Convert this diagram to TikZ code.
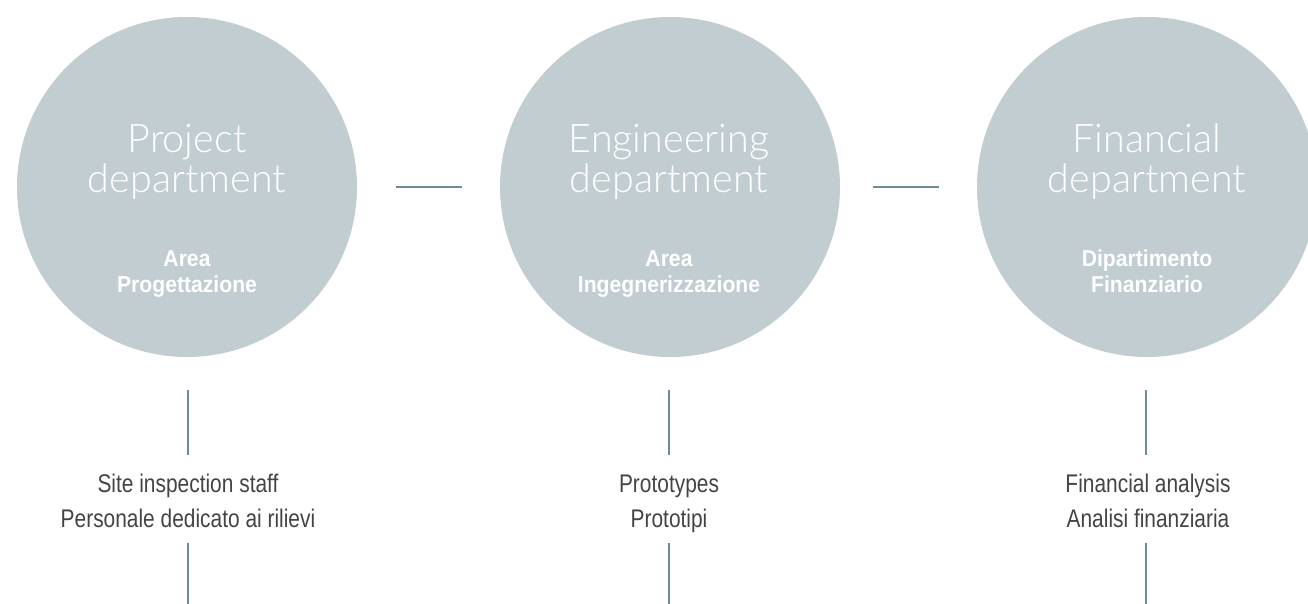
\documentclass[tikz,border=0pt]{standalone}
\usepackage{fontspec}
\setmainfont{Liberation Sans}
\newfontfamily\titlefont{Lato}[UprightFont={* Light}]
\newfontfamily\subfont{Liberation Sans}[FakeStretch=0.92]
\newfontfamily\condfont{Liberation Sans}[FakeStretch=0.82]
\definecolor{circfill}{HTML}{C2CDD1}
\definecolor{linecol}{HTML}{6E8B96}
\definecolor{txtdark}{HTML}{444444}
\tikzset{
  dept/.style={circle, fill=circfill, minimum size=340pt, inner sep=0pt},
  titleline/.style={anchor=base, inner sep=0pt, text=white, font=\titlefont\fontsize{39.5}{40}\selectfont},
  subline/.style={anchor=base, inner sep=0pt, text=white, font=\subfont\bfseries\fontsize{23}{26}\selectfont},
  itemline/.style={anchor=base, inner sep=0pt, text=txtdark, font=\condfont\fontsize{25.5}{34}\selectfont},
  conn/.style={draw=linecol, line width=1.6pt}
}
\begin{document}
\begin{tikzpicture}[x=1pt, y=-1pt]
\path[use as bounding box] (0,0) rectangle (1308,603);
% circles
\node[dept] (p) at (187,187) {};
\node[dept] (e) at (670,187) {};
\node[dept] (f) at (1147,187) {};
% titles
\node[titleline] (pt1) at (187,152) {Project};
\node[titleline] (pt2) at (187,192) {department};
\node[subline] (ps1) at (187,266) {Area};
\node[subline] (ps2) at (187,292) {Progettazione};
\node[titleline] (et1) at (669,152) {Engineering};
\node[titleline] (et2) at (669,192) {department};
\node[subline] (es1) at (669,266) {Area};
\node[subline] (es2) at (669,292) {Ingegnerizzazione};
\node[titleline] (ft1) at (1147,152) {Financial};
\node[titleline] (ft2) at (1147,192) {department};
\node[subline] (fs1) at (1147,266) {Dipartimento};
\node[subline] (fs2) at (1147,292) {Finanziario};
% horizontal connectors
\draw[conn, shorten <=39pt, shorten >=38pt] (p.east) -- (e.west);
\draw[conn, shorten <=33pt, shorten >=38pt] (e.east) -- (f.west);
% items
\node[itemline] (pi1) at (188,492) {Site inspection staff};
\node[itemline] (pi2) at (188,527) {Personale dedicato ai rilievi};
\node[itemline] (ei1) at (669,492) {Prototypes};
\node[itemline] (ei2) at (669,527) {Prototipi};
\node[itemline] (fi1) at (1148,492) {Financial analysis};
\node[itemline] (fi2) at (1148,527) {Analisi finanziaria};
% vertical connector ends
\coordinate (pa) at (188,390); \coordinate (pb) at (188,455);
\coordinate (pc) at (188,543); \coordinate (pd) at (188,604);
\coordinate (ea) at (669,390); \coordinate (eb) at (669,455);
\coordinate (ec) at (669,543); \coordinate (ed) at (669,604);
\coordinate (fa) at (1146,390); \coordinate (fb) at (1146,455);
\coordinate (fc) at (1146,543); \coordinate (fd) at (1146,604);
\draw[conn] (pa) -- (pb);
\draw[conn] (pc) -- (pd);
\draw[conn] (ea) -- (eb);
\draw[conn] (ec) -- (ed);
\draw[conn] (fa) -- (fb);
\draw[conn] (fc) -- (fd);
\end{tikzpicture}
\end{document}
